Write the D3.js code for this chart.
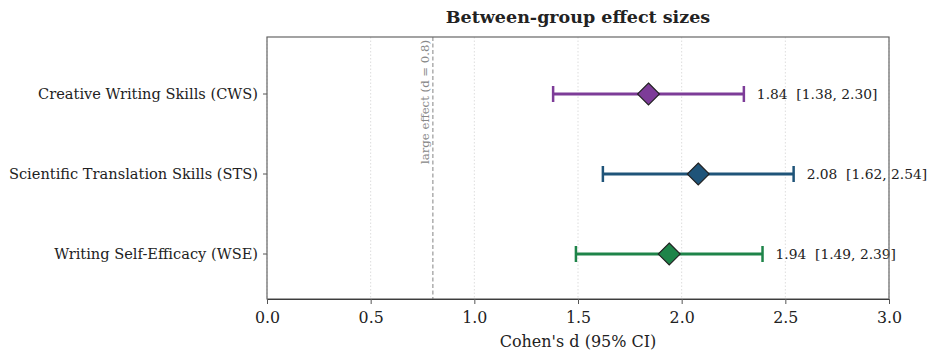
<!DOCTYPE html>
<meta charset="utf-8">
<script src="https://d3js.org/d3.v7.min.js"></script>
<style>
  body { margin: 0; background: #fff; }
  text { font-family: "DejaVu Serif", serif; fill: #222; }
</style>
<div id="chart"></div>
<script>

// data
const outcomes = ["Creative Writing Skills (CWS)", "Scientific Translation Skills (STS)", "Writing Self-Efficacy (WSE)"];
const effects = [1.84, 2.08, 1.94];
const ciLow = [1.38, 1.62, 1.49];
const ciHigh = [2.30, 2.54, 2.39];
const colors = ["#7d3c98", "#1f5479", "#1e8449"];
const xTicks = [0, 0.5, 1.0, 1.5, 2.0, 2.5, 3.0];
const refLine = 0.8;

const W = 928, H = 356;
const margin = {top: 37, right: 39, bottom: 57, left: 267};
const width = W - margin.left - margin.right,
      height = H - margin.top - margin.bottom;

const svg = d3.select("#chart").append("svg")
  .attr("width", W).attr("height", H);

const g = svg.append("g")
  .attr("transform", `translate(${margin.left},${margin.top})`);

const x = d3.scaleLinear().domain([0, 3]).range([0, width]);
// rows: top row = highest index
const y = d3.scaleLinear().domain([-0.5625, 2.7125]).range([height, 0]);
const rowY = i => y(outcomes.length - 1 - i);

// grid
g.selectAll(".grid").data(xTicks).join("line")
  .attr("x1", d => x(d)).attr("x2", d => x(d))
  .attr("y1", 0).attr("y2", height)
  .attr("stroke", "#d4d4d4").attr("stroke-width", 0.8)
  .attr("stroke-dasharray", "1.5,2");

// reference line
g.append("line")
  .attr("x1", x(refLine)).attr("x2", x(refLine))
  .attr("y1", 0).attr("y2", height)
  .attr("stroke", "#999").attr("stroke-width", 1.2)
  .attr("stroke-dasharray", "4,2.5");

g.append("text")
  .attr("transform", `translate(${x(refLine) - 4},3) rotate(-90)`)
  .attr("text-anchor", "end")
  .attr("font-size", 11.7)
  .style("fill", "#888")
  .text("large effect (d = 0.8)");

// error bars
const rows = g.selectAll(".row").data(outcomes).join("g").attr("class", "row");

rows.append("line")
  .attr("x1", (d, i) => x(ciLow[i])).attr("x2", (d, i) => x(ciHigh[i]))
  .attr("y1", (d, i) => rowY(i)).attr("y2", (d, i) => rowY(i))
  .attr("stroke", (d, i) => colors[i]).attr("stroke-width", 3);

[ciLow, ciHigh].forEach(arr => {
  rows.append("line")
    .attr("x1", (d, i) => x(arr[i])).attr("x2", (d, i) => x(arr[i]))
    .attr("y1", (d, i) => rowY(i) - 8).attr("y2", (d, i) => rowY(i) + 8)
    .attr("stroke", (d, i) => colors[i]).attr("stroke-width", 2.5);
});

rows.append("path")
  .attr("d", "M0,-11 L11,0 L0,11 L-11,0 Z")
  .attr("transform", (d, i) => `translate(${x(effects[i])},${rowY(i)})`)
  .attr("fill", (d, i) => colors[i])
  .attr("stroke", "#222").attr("stroke-width", 1.1);

rows.append("text")
  .attr("x", (d, i) => x(ciHigh[i]) + 13)
  .attr("y", (d, i) => rowY(i))
  .attr("dy", "0.35em")
  .attr("font-size", 13.8)
  .style("white-space", "pre")
  .text((d, i) => `${effects[i].toFixed(2)}  [${ciLow[i].toFixed(2)}, ${ciHigh[i].toFixed(2)}]`);

// x axis
const xAxis = g.append("g")
  .attr("transform", `translate(0,${height})`)
  .call(d3.axisBottom(x).tickValues(xTicks).tickFormat(d3.format(".1f")).tickSize(5).tickPadding(8));
xAxis.selectAll("text").attr("font-size", 15.8).attr("font-family", "DejaVu Serif");
xAxis.selectAll("line").attr("stroke", "#555");

// y axis
const yAxis = g.append("g");
outcomes.forEach((d, i) => {
  yAxis.append("line").attr("x1", -4).attr("x2", 0)
    .attr("y1", rowY(i)).attr("y2", rowY(i)).attr("stroke", "#555");
  yAxis.append("text").attr("x", -9).attr("y", rowY(i)).attr("dy", "0.35em")
    .attr("text-anchor", "end").attr("font-size", 14.6).text(d);
});

// frame
g.append("rect").attr("width", width).attr("height", height)
  .attr("fill", "none").attr("stroke", "#666").attr("stroke-width", 1.2);

// labels
svg.append("text")
  .attr("x", margin.left + width / 2).attr("y", 23)
  .attr("text-anchor", "middle").attr("font-size", 17.5).attr("font-weight", "bold")
  .text("Between-group effect sizes");

svg.append("text")
  .attr("x", margin.left + width / 2).attr("y", 347)
  .attr("text-anchor", "middle").attr("font-size", 16)
  .text("Cohen's d (95% CI)");
</script>
